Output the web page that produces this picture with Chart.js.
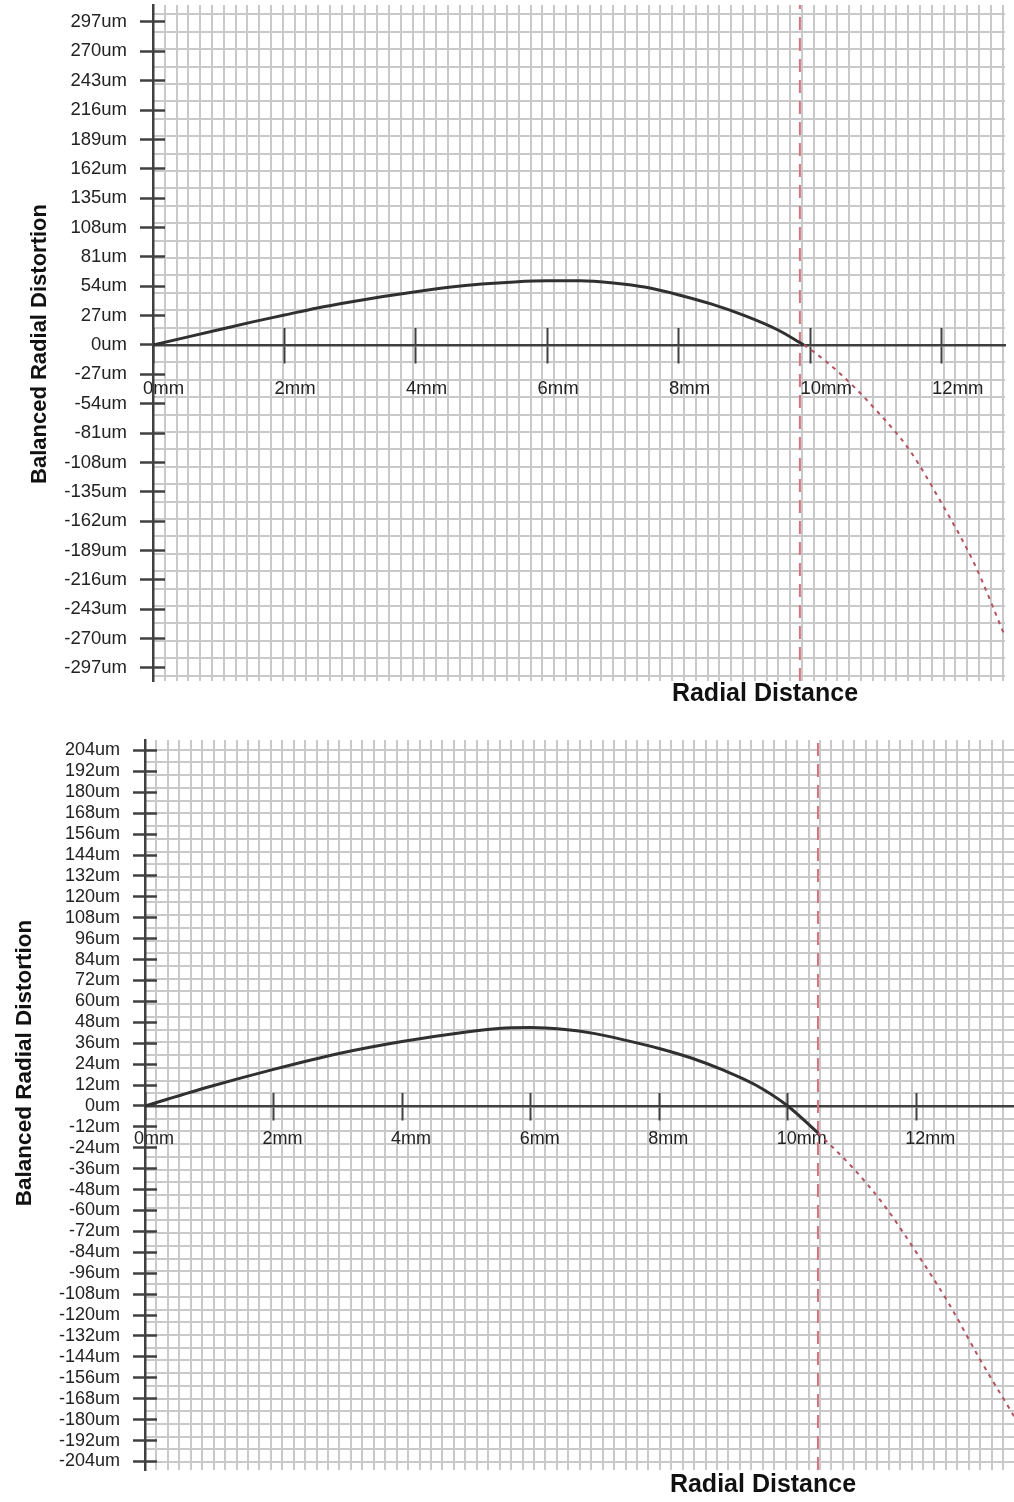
<!DOCTYPE html>
<html>
<head>
<meta charset="utf-8">
<script src="https://cdn.jsdelivr.net/npm/chart.js@4.4.1/dist/chart.umd.min.js"></script>
<style>
  html, body { margin: 0; padding: 0; background: #fff; }
  .box { position: absolute; left: 0; width: 1014px; }
  #top { top: 0; height: 720px; }
  #bottom { top: 725px; height: 777px; }
</style>
</head>
<body>
<div class="box" id="top"><canvas id="c1"></canvas></div>
<div class="box" id="bottom"><canvas id="c2"></canvas></div>
<script>
// radial distance ticks (mm), shared by both plots
const xTicks = [0, 2, 4, 6, 8, 10, 12];

// upper plot
const yTicks1 = [297, 270, 243, 216, 189, 162, 135, 108, 81, 54, 27, 0,
  -27, -54, -81, -108, -135, -162, -189, -216, -243, -270, -297];
const r1 = [0, 0.5, 1, 1.5, 2, 2.5, 3, 3.5, 4, 4.5, 5, 5.5, 6, 6.5, 7, 7.5, 8, 8.5, 9, 9.5, 9.9];
const d1 = [0, 7, 14, 21, 27.5, 34, 39.5, 44.5, 49, 53, 56, 58, 59, 59, 57, 53, 46, 37.5, 27, 14, 0];
const r1Beyond = [9.9, 10, 10.5, 11, 11.5, 12, 12.5, 12.96];
const d1Beyond = [0, -4, -29, -60, -96, -146, -202, -268];
const cutoff1 = 9.84;

// lower plot
const yTicks2 = [204, 192, 180, 168, 156, 144, 132, 120, 108, 96, 84, 72, 60, 48, 36, 24, 12, 0,
  -12, -24, -36, -48, -60, -72, -84, -96, -108, -120, -132, -144, -156, -168, -180, -192, -204];
const r2 = [0, 1, 2, 3, 4, 5, 5.5, 6, 6.5, 7, 7.5, 8, 8.5, 9, 9.5, 10, 10.47];
const d2 = [0, 11, 21, 30, 37, 42.5, 44.5, 45, 44, 41.5, 37.5, 33, 27.5, 20.5, 12, 0, -15.5];
const r2Beyond = [10.47, 11, 11.5, 12, 12.5, 13, 13.52];
const d2Beyond = [-15.5, -35, -57, -84, -113, -146, -178];
const cutoff2 = 10.47;

const ink = '#404040';
const paperLine = '#c9c9c9';
const sans = '"Liberation Sans", Arial, sans-serif';

const pts = (xs, ys) => xs.map((x, i) => ({ x, y: ys[i] }));
const zeroPad = s => { s.paddingLeft = s.paddingRight = s.paddingTop = s.paddingBottom = 0; };
const stepTicks = (s, min, max, step, phase) => {
  s.ticks = [];
  for (let v = phase + Math.ceil((min - phase) / step) * step; v <= max; v += step) s.ticks.push({ value: v });
};

const axisTitles = {
  id: 'axisTitles',
  afterDraw(chart, args, o) {
    const ctx = chart.ctx;
    ctx.save();
    ctx.fillStyle = '#111';
    ctx.textAlign = 'center';
    ctx.textBaseline = 'middle';
    ctx.font = o.xFont;
    ctx.fillText(o.xText, o.xAt[0], o.xAt[1]);
    ctx.translate(o.yAt[0], o.yAt[1]);
    ctx.rotate(-Math.PI / 2);
    ctx.font = o.yFont;
    ctx.fillText(o.yText, 0, 0);
    ctx.restore();
  }
};

function build(id, o) {
  const font = { family: sans, size: o.size, lineHeight: 1.2 };
  const hidden = { display: false };
  return new Chart(document.getElementById(id), {
    type: 'line',
    data: {
      datasets: [
        { data: pts(o.r, o.d), borderColor: '#303030', borderWidth: 3, pointRadius: 0,
          cubicInterpolationMode: 'monotone', xAxisID: 'x', yAxisID: 'y' },
        { data: pts(o.rb, o.db), borderColor: '#b4525f', borderWidth: 2, borderDash: [4, 5], pointRadius: 0,
          cubicInterpolationMode: 'monotone', xAxisID: 'x', yAxisID: 'y' },
        { data: [{ x: o.cut, y: o.yMin }, { x: o.cut, y: o.yMax }], borderColor: '#d8727f', borderWidth: 2,
          borderDash: [13, 8], pointRadius: 0, xAxisID: 'x', yAxisID: 'y' }
      ]
    },
    options: {
      responsive: true,
      maintainAspectRatio: false,
      animation: false,
      events: [],
      layout: { padding: o.pad },
      plugins: {
        legend: { display: false },
        tooltip: { enabled: false },
        axisTitles: {
          xText: 'Radial Distance', xAt: o.xTitleAt, xFont: 'bold 25px ' + sans,
          yText: 'Balanced Radial Distortion', yAt: o.yTitleAt, yFont: o.yTitleFont
        }
      },
      scales: {
        gx: {
          type: 'linear', axis: 'x', position: { y: 0 }, min: 0, max: o.xMax,
          afterBuildTicks: s => stepTicks(s, 0, o.xMax, o.colStep, 0),
          ticks: hidden, border: hidden,
          grid: { color: paperLine, lineWidth: 2, drawTicks: false, z: -1 },
          afterFit: zeroPad
        },
        gy: {
          type: 'linear', axis: 'y', position: { x: 0 }, min: o.yMin, max: o.yMax,
          afterBuildTicks: s => stepTicks(s, o.yMin, o.yMax, o.rowStep, o.rowPhase),
          ticks: hidden, border: hidden,
          grid: { color: paperLine, lineWidth: 2, drawTicks: false, z: -1 },
          afterFit: zeroPad
        },
        x: {
          type: 'linear', axis: 'x', position: { y: 0 }, min: 0, max: o.xMax,
          afterBuildTicks: s => { s.ticks = xTicks.map(v => ({ value: v })); },
          ticks: { callback: v => v + 'mm', font, color: '#222', padding: o.xPad, align: 'start',
            labelOffset: o.xLabelShift, autoSkip: false, maxRotation: 0 },
          grid: { drawOnChartArea: false, tickLength: o.xTick, tickColor: ink, tickWidth: 2 },
          border: { color: ink, width: 2.5 },
          afterFit: zeroPad
        },
        xt: {
          type: 'linear', axis: 'x', position: { y: o.xtAt }, min: 0, max: o.xMax,
          afterBuildTicks: s => { s.ticks = xTicks.map(v => ({ value: v })); },
          ticks: hidden, border: hidden,
          grid: { drawOnChartArea: false, tickLength: o.xTick, tickColor: ink, tickWidth: 2 },
          afterFit: zeroPad
        },
        y: {
          type: 'linear', axis: 'y', position: 'left', min: o.yMin, max: o.yMax,
          afterBuildTicks: s => { s.ticks = o.yTicks.map(v => ({ value: v })); },
          ticks: { callback: v => v + 'um', font, color: '#222', padding: o.yPad, autoSkip: false },
          grid: { drawOnChartArea: false, tickLength: o.yTick, tickColor: ink, tickWidth: 2.5 },
          border: { color: ink, width: 2.5 },
          afterFit: s => { zeroPad(s); s.width = o.left; }
        },
        yt: {
          type: 'linear', axis: 'y', position: { x: o.ytAt }, min: o.yMin, max: o.yMax,
          afterBuildTicks: s => { s.ticks = o.yTicks.map(v => ({ value: v })); },
          ticks: hidden, border: hidden,
          grid: { drawOnChartArea: false, tickLength: o.yTick, tickColor: ink, tickWidth: 2.5 },
          afterFit: zeroPad
        }
      }
    },
    plugins: [axisTitles]
  });
}

build('c1', {
  r: r1, d: d1, rb: r1Beyond, db: d1Beyond, cut: cutoff1, yTicks: yTicks1,
  xMax: 12.96, yMin: -309, yMax: 312.6, size: 18.5,
  pad: { left: 0, top: 5, right: 9, bottom: 39 }, left: 153,
  colStep: 0.1795, rowStep: 16, rowPhase: 0,
  xTick: 17, xtAt: 15.6, xPad: 16, xLabelShift: -10,
  yTick: 13, ytAt: 0.18, yPad: 13,
  xTitleAt: [765, 694], yTitleAt: [40, 344],
  yTitleFont: 'bold 22px ' + sans
});

build('c2', {
  r: r2, d: d2, rb: r2Beyond, db: d2Beyond, cut: cutoff2, yTicks: yTicks2,
  xMax: 13.52, yMin: -208.9, yMax: 210, size: 18,
  pad: { left: 0, top: 15, right: 0, bottom: 32 }, left: 145,
  colStep: 0.178, rowStep: 7.3, rowPhase: 0,
  xTick: 13, xtAt: 7.46, xPad: 9, xLabelShift: -11,
  yTick: 12, ytAt: 0.19, yPad: 13,
  xTitleAt: [763, 760], yTitleAt: [25, 338],
  yTitleFont: 'bold 22.5px ' + sans
});
</script>
</body>
</html>
